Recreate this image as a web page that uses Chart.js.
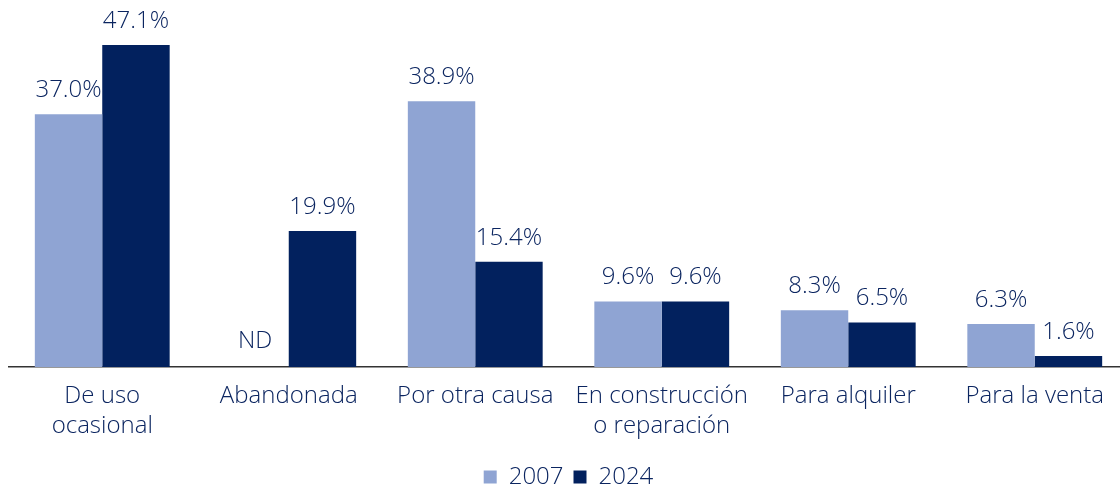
<!DOCTYPE html>
<html>
<head>
<meta charset="utf-8">
<script src="https://cdn.jsdelivr.net/npm/chart.js@4/dist/chart.umd.min.js"></script>
<style>
  html, body { margin: 0; padding: 0; background: #fff; overflow: hidden; }
  #wrap { width: 1130px; height: 499px; position: relative; }
</style>
</head>
<body>
<div id="wrap"><canvas id="c"></canvas></div>
<script>
const categories = [["De uso", "ocasional"], "Abandonada", "Por otra causa", ["En construcción", "o reparación"], "Para alquiler", "Para la venta"];
const series2007 = [37.0, null, 38.9, 9.6, 8.3, 6.3];
const series2024 = [47.1, 19.9, 15.4, 9.6, 6.5, 1.6];
const seriesNames = ["2007", "2024"];
const missingLabel = "ND";

const TEXT = '#0B2560';
const FONT = '"Open Sans"';
const FSIZE = 24;

const valueLabels = {
  id: 'valueLabels',
  afterDatasetsDraw(chart) {
    const ctx = chart.ctx;
    ctx.save();
    ctx.fillStyle = TEXT;
    ctx.font = '300 ' + FSIZE + 'px ' + FONT;
    ctx.textAlign = 'center';
    ctx.textBaseline = 'middle';
    chart.data.datasets.forEach((ds, di) => {
      const meta = chart.getDatasetMeta(di);
      meta.data.forEach((bar, i) => {
        const v = ds.data[i];
        if (v === null || v === undefined) {
          const y0 = chart.scales.y.getPixelForValue(0);
          ctx.fillText(missingLabel, bar.x, y0 - 26);
        } else {
          ctx.fillText(v.toFixed(1) + '%', bar.x, bar.y - 24);
        }
      });
    });
    ctx.restore();
  }
};

new Chart(document.getElementById('c'), {
  type: 'bar',
  data: {
    labels: categories,
    datasets: [
      { label: seriesNames[0], data: series2007, backgroundColor: '#8FA4D3' },
      { label: seriesNames[1], data: series2024, backgroundColor: '#02215E' }
    ]
  },
  options: {
    responsive: true,
    maintainAspectRatio: false,
    animation: false,
    layout: { padding: { left: 9, right: 2, top: 0, bottom: 0 } },
    datasets: { bar: { categoryPercentage: 0.723, barPercentage: 1.0 } },
    scales: {
      x: {
        grid: { display: false, drawTicks: false },
        border: { display: true, color: '#333333', width: 1.5 },
        ticks: {
          color: TEXT,
          font: { family: FONT, size: FSIZE, weight: 300, lineHeight: 1.25 },
          padding: 14,
          maxRotation: 0,
          autoSkip: false
        }
      },
      y: {
        display: false,
        min: 0,
        max: 53.7
      }
    },
    plugins: {
      legend: {
        position: 'bottom',
        labels: {
          color: TEXT,
          font: { family: FONT, size: FSIZE, weight: 300 },
          boxWidth: 13,
          boxHeight: 13,
          padding: 10
        }
      },
      tooltip: { enabled: false }
    }
  },
  plugins: [valueLabels]
});
</script>
</body>
</html>
